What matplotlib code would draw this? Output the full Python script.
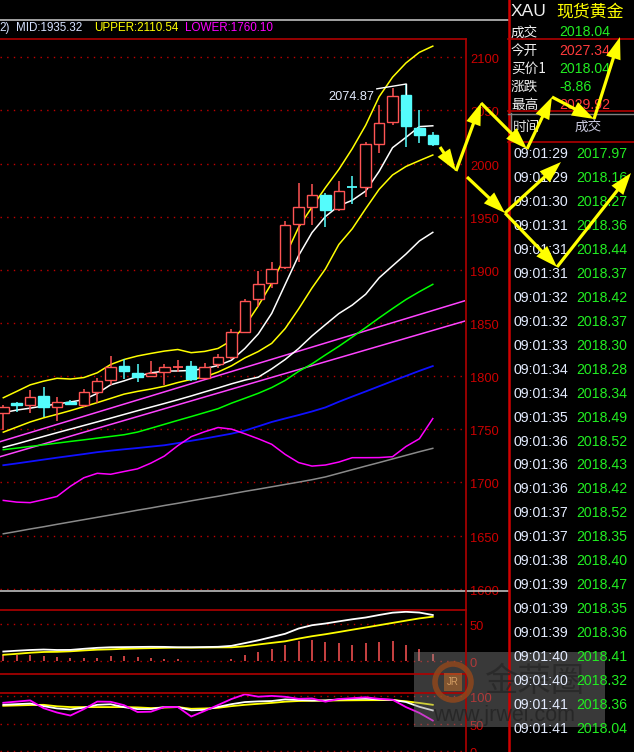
import matplotlib
matplotlib.use('Agg')
import matplotlib.pyplot as plt
from matplotlib.patches import Rectangle, FancyArrow, Circle
from matplotlib.transforms import blended_transform_factory, offset_copy

plt.rcParams['font.family'] = ['Liberation Sans', 'Noto Sans CJK SC', 'DejaVu Sans']

W, H = 634, 752

# ---------------- data ----------------
opens = [1765.3, 1775.0, 1772.9, 1781.3, 1771.0, 1775.5, 1772.9, 1785.1, 1796.4, 1809.5, 1803.0,
         1800.1, 1803.9, 1808.4, 1809.5, 1798.3, 1811.4, 1818.0, 1841.5, 1872.6, 1887.6, 1902.7,
         1943.2, 1959.2, 1970.4, 1957.3, 1978.0, 1978.0, 2018.4, 2039.1, 2064.5, 2033.5, 2027.34]
highs = [1772.9, 1775.9, 1787.0, 1789.8, 1780.3, 1777.6, 1787.9, 1798.0, 1818.9, 1816.1, 1811.4,
         1814.2, 1811.4, 1815.2, 1814.2, 1812.4, 1820.8, 1844.4, 1872.6, 1898.9, 1907.4, 1946.0,
         1981.7, 1980.8, 1972.3, 1983.6, 1988.3, 2020.3, 2055.1, 2071.1, 2074.87, 2050.4, 2029.92]
lows = [1749.3, 1766.5, 1765.4, 1761.6, 1758.0, 1772.9, 1771.2, 1775.0, 1791.7, 1797.3, 1794.5,
        1799.2, 1791.7, 1803.9, 1795.4, 1797.3, 1807.7, 1816.1, 1840.6, 1865.1, 1882.9, 1900.8,
        1907.4, 1942.2, 1940.3, 1955.4, 1962.0, 1968.6, 2010.0, 2036.3, 2015.6, 2019.4, 2016.5]
closes = [1771.0, 1773.1, 1780.7, 1771.0, 1776.0, 1773.8, 1784.8, 1795.2, 1808.6, 1804.8, 1799.2,
          1803.0, 1808.6, 1808.6, 1797.3, 1808.6, 1818.0, 1841.5, 1870.7, 1886.7, 1900.8, 1942.2,
          1959.2, 1970.4, 1956.3, 1974.2, 1977.8, 2018.4, 2038.2, 2063.6, 2035.4, 2026.9, 2018.04]

boll_upper = [1779.7, 1785.7, 1791.8, 1795.3, 1798.0, 1797.3, 1798.7, 1803.2, 1811.0, 1815.7, 1819.0,
              1821.4, 1823.6, 1825.1, 1822.1, 1823.3, 1826.1, 1833.5, 1847.2, 1866.2, 1887.5, 1912.9,
              1940.0, 1959.1, 1977.4, 1994.5, 2014.1, 2036.1, 2062.9, 2081.3, 2094.7, 2104.7, 2110.54]
boll_mid = [1733.0, 1736.3, 1739.8, 1743.3, 1746.8, 1750.2, 1753.6, 1757.0, 1760.5, 1764.0, 1767.5,
            1770.9, 1774.3, 1777.8, 1781.4, 1785.2, 1788.9, 1792.8, 1796.3, 1799.1, 1806.9, 1815.7,
            1826.0, 1837.9, 1848.5, 1858.9, 1866.9, 1877.1, 1892.5, 1903.8, 1914.9, 1927.2, 1935.32]
boll_lower = [1683.1, 1681.5, 1681.0, 1683.8, 1686.8, 1696.4, 1704.4, 1708.6, 1707.7, 1710.3, 1712.8,
              1718.2, 1724.8, 1734.6, 1743.1, 1747.7, 1751.7, 1750.2, 1745.8, 1741.1, 1735.9, 1726.4,
              1718.7, 1715.4, 1716.4, 1719.2, 1723.3, 1723.3, 1723.4, 1724.2, 1733.8, 1741.1, 1760.10]
ma_white = [1765.7, 1768.1, 1769.9, 1772.0, 1773.8, 1775.7, 1777.9, 1783.8, 1791.9, 1795.6, 1799.8,
            1803.1, 1804.8, 1804.9, 1805.4, 1807.1, 1810.0, 1815.0, 1826.1, 1839.8, 1859.1, 1886.3,
            1913.4, 1935.1, 1950.2, 1960.3, 1965.5, 1974.2, 1992.7, 2015.0, 2024.7, 2034.8, 2035.6]
ma_yellow = [1747.3, 1752.1, 1756.9, 1760.8, 1764.1, 1767.6, 1771.3, 1775.1, 1779.1, 1783.1, 1785.7,
             1787.9, 1790.5, 1794.0, 1797.0, 1799.2, 1803.9, 1809.7, 1817.2, 1823.2, 1830.9, 1844.8,
             1863.2, 1883.0, 1900.9, 1923.9, 1938.7, 1957.6, 1975.8, 1989.3, 1997.3, 2002.8, 2008.1]
ma_green = [1730.8, 1732.3, 1733.9, 1735.4, 1737.0, 1738.6, 1740.1, 1741.7, 1743.3, 1744.9, 1747.4,
            1751.0, 1754.7, 1758.4, 1762.0, 1765.7, 1769.4, 1774.6, 1779.2, 1783.9, 1789.3, 1796.0,
            1804.5, 1811.6, 1820.0, 1828.1, 1836.8, 1845.7, 1854.8, 1863.6, 1872.1, 1879.5, 1886.4]
ma_blue = [1716.2, 1717.9, 1719.7, 1721.5, 1723.3, 1725.0, 1726.7, 1728.5, 1729.9, 1731.2, 1732.4,
           1733.7, 1735.0, 1737.0, 1739.2, 1741.3, 1743.6, 1745.9, 1748.8, 1752.8, 1756.9, 1760.2,
           1763.4, 1766.8, 1770.6, 1775.9, 1780.8, 1785.6, 1790.5, 1795.4, 1800.2, 1805.0, 1809.5]
ma_gray = [1651.7, 1653.9, 1656.2, 1658.3, 1660.6, 1662.8, 1665.0, 1667.2, 1669.4, 1671.6, 1673.9,
           1676.0, 1678.3, 1680.4, 1682.7, 1684.9, 1687.0, 1689.3, 1691.6, 1693.7, 1695.9, 1698.1,
           1700.3, 1702.6, 1705.2, 1708.6, 1712.0, 1715.4, 1718.7, 1722.1, 1725.5, 1728.9, 1732.1]
trend_x = [-0.25, 34.4]
trend_a = [1738.3, 1871.0]
trend_b = [1724.2, 1851.9]

macd_dif = [12.8, 13.9, 14.9, 15.5, 14.9, 15.0, 16.5, 17.8, 18.6, 18.8, 19.0, 19.2, 19.1, 18.6, 18.6,
            18.9, 19.2, 20.5, 24.2, 28.0, 32.4, 36.8, 43.9, 48.4, 50.7, 53.6, 56.4, 58.8, 62.2, 65.3,
            66.5, 65.5, 62.2]
macd_dea = [8.4, 9.7, 11.2, 12.2, 12.4, 13.1, 14.3, 15.3, 15.8, 16.5, 17.0, 17.4, 17.8, 18.1, 18.1,
            18.2, 18.4, 18.5, 19.9, 22.3, 24.5, 26.6, 30.3, 33.5, 36.2, 39.2, 42.3, 45.3, 48.4, 51.5,
            54.6, 57.6, 59.9]
macd_hist = [8.1, 8.1, 7.7, 6.8, 5.4, 4.1, 4.1, 4.1, 6.8, 6.8, 5.4, 4.1, 2.7, 2.7, 0, 0, 0, 2.7, 8.1,
             12.2, 16.2, 21.6, 27.0, 28.4, 26.1, 24.7, 21.6, 24.7, 26.1, 27.4, 21.6, 16.2, 9.5]

kdj_k = [84.6, 85.7, 86.8, 82.1, 77.9, 76.1, 79.3, 84.5, 85.5, 80.2, 76.8, 76.8, 80.4, 80.4, 74.5, 75.4,
         80.7, 85.7, 89.5, 90.7, 91.4, 94.3, 93.4, 92.3, 92.5, 94.3, 95.2, 95.7, 94.3, 93.4, 89.6, 80.9, 74.3]
kdj_d = [82.7, 83.4, 84.1, 84.5, 81.8, 80.4, 80.4, 80.4, 80.4, 80.4, 79.8, 78.6, 79.5, 80.4, 77.3, 77.9,
         79.1, 82.1, 84.5, 86.3, 88.0, 90.2, 91.4, 91.8, 92.1, 92.5, 92.7, 92.9, 93.0, 93.2, 90.9, 87.9, 84.5]
kdj_j = [88.2, 90.4, 92.5, 78.4, 70.5, 65.0, 76.6, 90.4, 90.0, 83.8, 71.4, 72.0, 80.5, 80.5, 63.2, 73.4,
         84.1, 95.0, 103.6, 99.3, 100.7, 99.1, 95.4, 96.1, 90.2, 95.0, 96.6, 98.2, 95.4, 93.8, 80.4, 69.8, 55.9]

price_ticks = [2100, 2050, 2000, 1950, 1900, 1850, 1800, 1750, 1700, 1650, 1600]
macd_ticks = [50, 0]
kdj_ticks = [100, 50, 0]

header_parts = [('2)', '#d6e2ff'), ('MID:1935.32', '#d6e2ff'), ('UPPER:2110.54', '#ffff00'),
                ('LOWER:1760.10', '#ff00ff')]
high_label = '2074.87'

symbol = 'XAU'
symbol_name = '现货黄金'
quote_labels = ['成交', '今开', '买价1', '涨跌', '最高']
quote_values = ['2018.04', '2027.34', '2018.04', '-8.86', '2029.92']
quote_up = [False, True, False, False, True]
tick_header = ['时间', '成交']
tick_times = ['09:01:29', '09:01:29', '09:01:30', '09:01:31', '09:01:31', '09:01:31', '09:01:32',
              '09:01:32', '09:01:33', '09:01:34', '09:01:34', '09:01:35', '09:01:36', '09:01:36',
              '09:01:36', '09:01:37', '09:01:37', '09:01:38', '09:01:39', '09:01:39', '09:01:39',
              '09:01:40', '09:01:40', '09:01:41', '09:01:41']
tick_prices = ['2017.97', '2018.16', '2018.27', '2018.36', '2018.44', '2018.37', '2018.42', '2018.37',
               '2018.30', '2018.28', '2018.34', '2018.49', '2018.52', '2018.43', '2018.42', '2018.52',
               '2018.35', '2018.40', '2018.47', '2018.35', '2018.36', '2018.41', '2018.32', '2018.36',
               '2018.04']

# ---------------- styles ----------------
RED_UP = '#ff5454'
CYAN = '#54fcfc'
GRID = '#c00000'
FRAME = '#b00000'
LABEL_RED = '#cc0000'
GREEN_TXT = '#22ee22'
WHITE_TXT = '#e4ecff'
DOT = (0, (1, 3.8))

fig = plt.figure(figsize=(W / 100, H / 100), dpi=100, facecolor='black')


def make_ax(y0, y1, ylim):
    ax = fig.add_axes([0, 1 - y1 / H, 465 / W, (y1 - y0) / H])
    ax.set_facecolor('black')
    ax.axis('off')
    ax.set_xlim(-0.246, 34.40)
    ax.set_ylim(*ylim)
    return ax


def right_labels(ax, ticks):
    tr = offset_copy(blended_transform_factory(ax.transAxes, ax.transData), fig=fig,
                     x=5, y=-3, units='dots')
    for t in ticks:
        ax.axhline(t, color=GRID, lw=1, ls=DOT, zorder=1)
        ax.text(1.0, t, str(t), transform=tr, color=LABEL_RED, fontsize=9.3,
                va='center', ha='left', clip_on=False)


n = len(closes)
xs = list(range(n))

# ---- main price panel ----
ax = make_ax(38, 590, (1598.8, 2118.2))
right_labels(ax, price_ticks)

ax.plot(trend_x, trend_a, color='#ff44ff', lw=1.1, zorder=2)
ax.plot(trend_x, trend_b, color='#ff44ff', lw=1.1, zorder=2)
ax.plot(xs, ma_gray, color='#8a8a8a', lw=1.1, zorder=2)
ax.plot(xs, ma_blue, color='#1010ff', lw=1.3, zorder=2)
ax.plot(xs, boll_lower, color='#ff00ff', lw=1.1, zorder=2)
ax.plot(xs, ma_green, color='#00ff00', lw=1.1, zorder=2)
ax.plot(xs, boll_mid, color='#ffffff', lw=1.1, zorder=2)
ax.plot(xs, ma_yellow, color='#ffff00', lw=1.1, zorder=2)
ax.plot(xs, boll_upper, color='#ffff00', lw=1.1, zorder=2)
ax.plot(xs, ma_white, color='#ffffff', lw=1.1, zorder=2)

bw = 0.78
for i in xs:
    o, h, l, c = opens[i], highs[i], lows[i], closes[i]
    lo, hi = min(o, c), max(o, c)
    up = c >= o
    col = RED_UP if up else CYAN
    ax.vlines(i, l, lo, color=col, lw=1.1, zorder=4)
    ax.vlines(i, hi, h, color=col, lw=1.1, zorder=4)
    if hi - lo < 0.6:
        ax.hlines(lo, i - bw / 2, i + bw / 2, color=col, lw=1.3, zorder=4)
    else:
        ax.add_patch(Rectangle((i - bw / 2, lo), bw, hi - lo,
                               facecolor='black' if up else col, edgecolor=col,
                               lw=1.0, zorder=5))

# high marker
hi_idx = highs.index(max(highs))
ax.plot([hi_idx - 2.17, hi_idx], [highs[hi_idx] - 4.5, highs[hi_idx]], color='#ffffff', lw=1, zorder=6)
ax.plot([hi_idx, hi_idx], [highs[hi_idx], highs[hi_idx] - 9], color='#ffffff', lw=1, zorder=6)
ax.annotate(high_label, xy=(hi_idx - 2.17, highs[hi_idx] - 4.5), xytext=(-2, -8),
            textcoords='offset pixels', ha='right', va='center', color=WHITE_TXT, fontsize=9.2)

# ---- MACD panel ----
mx = make_ax(609, 673, (-16.2, 70.3))
right_labels(mx, macd_ticks)
mx.vlines(xs, 0, macd_hist, color=RED_UP, lw=1.1, zorder=3)
mx.plot(xs, macd_dea, color='#ffff00', lw=1.3, zorder=4)
mx.plot(xs, macd_dif, color='#ffffff', lw=1.3, zorder=4)

# ---- KDJ panel ----
kx = make_ax(692, 752, (-1.27, 107.8))
right_labels(kx, kdj_ticks)
kx.plot(xs, kdj_d, color='#ffff00', lw=1.3, zorder=3)
kx.plot(xs, kdj_k, color='#ffffff', lw=1.3, zorder=4)
kx.plot(xs, kdj_j, color='#ff00ff', lw=1.3, zorder=5)

# ---- overlay in pixel coordinates ----
ov = fig.add_axes([0, 0, 1, 1], zorder=10)
ov.set_xlim(0, W)
ov.set_ylim(H, 0)
ov.axis('off')
ov.patch.set_alpha(0)

# frame lines
ov.plot([0, 508], [19.5, 19.5], color='#bdbdbd', lw=1.2)
ov.plot([0, 508], [590.5, 590.5], color='#bdbdbd', lw=1.2)
for yy in (38.5, 609.5, 673.5, 692.5):
    ov.plot([0, 465.5], [yy, yy], color=FRAME, lw=1.2)
ov.plot([465.5, 465.5], [38.5, 752], color=FRAME, lw=1.2)
ov.plot([508.5, 508.5], [0, 752], color='#d00000', lw=1.8)
ov.plot([511, 511], [113, 141], color='#808080', lw=1)
for yy in (38.5, 111, 141.5):
    ov.plot([508, 634], [yy, yy], color=FRAME, lw=1.2)
ov.plot([508, 634], [113.5, 113.5], color='#808080', lw=1)

# header text
hx = [-1, 16, 94, 185]
for (txt, col), x0 in zip(header_parts, hx):
    ov.text(x0, 28, txt, color=col, fontsize=8.4, va='center', ha='left')

# right panel
ov.text(511, 12, symbol, color='#f0f0f0', fontsize=12.5, va='center', ha='left')
ov.text(556, 12, symbol_name, color='#ffff00', fontsize=12.2, va='center', ha='left',
        family=['Noto Sans CJK SC'])
for k, (lab, val, up) in enumerate(zip(quote_labels, quote_values, quote_up)):
    yy = 32.5 + 18.2 * k
    ov.text(511, yy, lab, color='#f0f0f0', fontsize=9.8, va='center', ha='left',
            family=['Noto Sans CJK SC'])
    ov.text(559, yy, val, color=('#ff3b3b' if up else GREEN_TXT), fontsize=10.2,
            va='center', ha='left')
ov.text(513, 126.5, tick_header[0], color='#e0e0e0', fontsize=9.8, va='center', ha='left',
        family=['Noto Sans CJK SC'])
ov.text(575, 126.5, tick_header[1], color='#c8c8dc', fontsize=9.8, va='center', ha='left',
        family=['Noto Sans CJK SC'])
for k, (t, p) in enumerate(zip(tick_times, tick_prices)):
    yy = 154 + 23.96 * k
    ov.text(513, yy, t, color=WHITE_TXT, fontsize=10.2, va='center', ha='left')
    ov.text(576, yy, p, color=GREEN_TXT, fontsize=10.2, va='center', ha='left')

# watermark
ov.add_patch(Rectangle((414, 652), 191, 75, facecolor='#8a8a8a', alpha=0.42, lw=0, zorder=1))
ov.add_patch(Circle((453, 682), 18, fill=False, edgecolor='#9a4818', lw=4, alpha=0.75, zorder=2))
ov.add_patch(Rectangle((444, 673), 18, 18, facecolor='#b4682a', alpha=0.6, lw=0, zorder=2))
ov.text(453, 682, 'JR', color='#e8b070', fontsize=7, ha='center', va='center', alpha=0.8, zorder=3)
ov.text(484, 681, '金荣圈', color='#262626', fontsize=24, ha='left', va='center', alpha=0.75,
        family=['Noto Sans CJK SC'], zorder=2)
ov.text(433, 715, 'www.jrwei.com', color='#222222', fontsize=15.5, ha='left', va='center',
        alpha=0.75, zorder=2)

# yellow annotation arrows (tail -> tip, pixel coordinates)
arrows = [((440, 147), (456, 171)), ((456, 171), (481, 103)), ((481, 103), (527, 149)),
          ((527, 149), (552, 97)), ((552, 97), (594, 119)), ((594, 119), (620, 37)),
          ((467, 177), (505, 213)), ((505, 213), (561, 162)), ((505, 213), (557, 267)),
          ((557, 267), (631, 173))]
for (x0, y0), (x1, y1) in arrows:
    ov.add_patch(FancyArrow(x0, y0, x1 - x0, y1 - y0, width=3.2, head_width=15, head_length=22,
                            length_includes_head=True, color='#ffff00', lw=0, zorder=8))

fig.savefig('out.png', dpi=100, facecolor='black')
